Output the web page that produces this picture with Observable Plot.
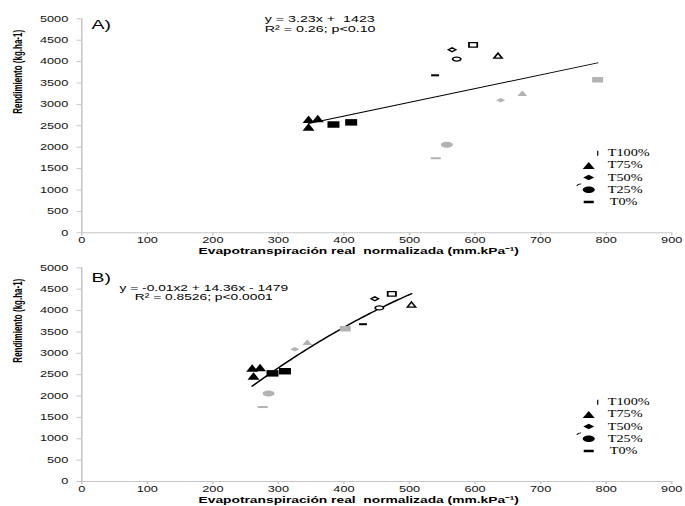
<!DOCTYPE html>
<html>
<head>
<meta charset="utf-8">
<script src="https://cdn.jsdelivr.net/npm/d3@7"></script>
<script src="https://cdn.jsdelivr.net/npm/@observablehq/plot@0.6"></script>
<style>
  html, body { margin: 0; padding: 0; background: #fff; }
  #chart { position: relative; width: 685px; height: 506px; overflow: hidden; background: #fff; }
  #chart svg { position: absolute; left: 0; transform-origin: 0 0; }
  #chart svg text { white-space: pre; }
</style>
</head>
<body>
<div id="chart"></div>
<script>
// ---------------- DATA ----------------
const treatments = ["T100%", "T75%", "T50%", "T25%", "T0%"];
// yields (kg/ha) for the three groups of markers
const yieldDark = [2580, 2670, 2655, 2470, 2530];
const yieldOpen = [4390, 4140, 4275, 4060, 3680];
const yieldGray = [3575, 3260, 3095, 2058, 1742];
// panel A: evapotranspiración real normalizada
const etA_dark = [411, 360, 346, 346, 384];
const etA_open = [597, 635, 565, 572, 539];
const etA_gray = [787, 672, 639, 557, 540];
// panel B
const etB_dark = [310, 272, 260, 262, 291];
const etB_open = [473, 503, 447, 454, 429];
const etB_gray = [402, 344, 325, 285, 276];

const xTicks = [0, 100, 200, 300, 400, 500, 600, 700, 800, 900];
const yTicks = [0, 500, 1000, 1500, 2000, 2500, 3000, 3500, 4000, 4500, 5000];
const panelA = "A)";
const panelB = "B)";
const eqA = ["y = 3.23x +  1423", "R² = 0.26; p<0.10"];
const eqB = ["y = -0.01x2 + 14.36x - 1479", "R² = 0.8526; p<0.0001"];
const xLabel = "Evapotranspiración real  normalizada (mm.kPa⁻¹)";
const yLabel = "Rendimiento (kg.ha-1)";

// ---------------- STYLE ----------------
const S = 1.5;              // horizontal stretch of the original figure
const W0 = 685 / S;
const GRAY = "#b3b3b3";
const AXIS = "#c6c6c6";

function sym(kind, w, h) {
  return {
    draw(ctx) {
      const a = w / 2, b = h / 2, k = 0.5523;
      if (kind === "tri") {
        ctx.moveTo(0, -b); ctx.lineTo(a, b); ctx.lineTo(-a, b); ctx.closePath();
      } else if (kind === "diamond") {
        ctx.moveTo(0, -b); ctx.lineTo(a, 0); ctx.lineTo(0, b); ctx.lineTo(-a, 0); ctx.closePath();
      } else if (kind === "ellipse") {
        ctx.moveTo(a, 0);
        ctx.bezierCurveTo(a, b * k, a * k, b, 0, b);
        ctx.bezierCurveTo(-a * k, b, -a, b * k, -a, 0);
        ctx.bezierCurveTo(-a, -b * k, -a * k, -b, 0, -b);
        ctx.bezierCurveTo(a * k, -b, a, -b * k, a, 0);
        ctx.closePath();
      } else if (kind === "hook") {
        ctx.moveTo(-w / 2, h / 2);
        ctx.quadraticCurveTo(-w / 4, -h / 2, w / 2, -h / 2);
      } else {
        ctx.moveTo(-a, -b); ctx.lineTo(a, -b); ctx.lineTo(a, b); ctx.lineTo(-a, b); ctx.closePath();
      }
    }
  };
}

const darkSyms = [sym("rect", 8, 6.5), sym("tri", 8, 7.5), sym("tri", 8, 7.5), sym("tri", 8, 7.5), sym("rect", 8, 6.5)];
const openSyms = [sym("rect", 5.5, 4.5), sym("tri", 5.5, 5), sym("diamond", 5, 4), sym("ellipse", 5.5, 4), sym("rect", 5.3, 2)];
const openFilled = [false, false, false, false, true];
const graySyms = [sym("rect", 7.3, 5.5), sym("tri", 6.7, 5.5), sym("diamond", 6, 4.5), sym("ellipse", 8, 6), sym("rect", 6.7, 2)];
const legendSyms = [sym("rect", 0.8, 5), sym("tri", 8, 7), sym("diamond", 7.3, 5.5), sym("ellipse", 8, 6.5), sym("rect", 6.7, 2.5)];
const legendDx = [344, 338, 338, 338, 338];
const LEG_Y0 = 134.4, LEG_STEP = 12.2;

function quadFit(xs, ys) {
  const n = xs.length, mx = d3.mean(xs);
  let s1 = 0, s2 = 0, s3 = 0, s4 = 0, t0 = 0, t1 = 0, t2 = 0;
  xs.forEach((x, i) => {
    const u = x - mx, y = ys[i];
    s1 += u; s2 += u * u; s3 += u * u * u; s4 += u * u * u * u;
    t0 += y; t1 += u * y; t2 += u * u * y;
  });
  const M = [[n, s1, s2, t0], [s1, s2, s3, t1], [s2, s3, s4, t2]];
  for (let i = 0; i < 3; i++) {
    for (let j = i + 1; j < 3; j++) {
      const f = M[j][i] / M[i][i];
      for (let k = i; k < 4; k++) M[j][k] -= f * M[i][k];
    }
  }
  const c = [0, 0, 0];
  for (let i = 2; i >= 0; i--) {
    let s = M[i][3];
    for (let k = i + 1; k < 3; k++) s -= M[i][k] * c[k];
    c[i] = s / M[i][i];
  }
  return x => c[0] + c[1] * (x - mx) + c[2] * (x - mx) * (x - mx);
}

function makePanel(etDark, etOpen, etGray, label, labelDy, eq, eqOpts, fit, svgTop, mTop, mBottom) {
  const rows = [];
  treatments.forEach((t, i) => {
    rows.push({t, et: etDark[i], y: yieldDark[i], sym: darkSyms[i], fill: "#000", stroke: "none", w: 0});
    rows.push({t, et: etOpen[i], y: yieldOpen[i], sym: openSyms[i], fill: openFilled[i] ? "#000" : "#fff", stroke: openFilled[i] ? "none" : "#000", w: 1.2});
    rows.push({t, et: etGray[i], y: yieldGray[i], sym: graySyms[i], fill: GRAY, stroke: "none", w: 0});
  });
  const marks = [
    Plot.ruleY([0], {stroke: AXIS, strokeWidth: 1}),
    Plot.ruleX([0], {stroke: AXIS, strokeWidth: 1}),
    Plot.axisX({ticks: xTicks, tickSize: 3, tickPadding: 1, tickFormat: d => String(d), stroke: AXIS, fill: "#111", label: null}),
    Plot.axisY({ticks: yTicks, tickSize: 3, tickPadding: 6, tickFormat: d => String(d), stroke: AXIS, fill: "#111", label: null})
  ];
  if (fit === "linear") {
    marks.push(Plot.linearRegressionY(rows, {x: "et", y: "y", stroke: "#000", strokeWidth: 1, ci: 0}));
  } else {
    const xs = rows.map(d => d.et), ys = rows.map(d => d.y);
    const f = quadFit(xs, ys);
    const [lo, hi] = d3.extent(xs);
    const curve = d3.range(0, 61).map(i => {
      const x = lo + (hi - lo) * i / 60;
      return {x, y: f(x)};
    });
    marks.push(Plot.line(curve, {x: "x", y: "y", stroke: "#000", strokeWidth: 1.3, curve: "linear"}));
  }
  rows.forEach(r => {
    marks.push(Plot.dot([r], {x: "et", y: "y", symbol: r.sym, fill: r.fill, stroke: r.stroke, strokeWidth: r.w, r: 4}));
  });
  // panel letter
  marks.push(Plot.text([label], {frameAnchor: "top-left", text: d => d, dx: 6.5, dy: labelDy, textAnchor: "start", lineAnchor: "middle", fontSize: 13, fill: "#000"}));
  // equation
  marks.push(Plot.text([eq.join("\n")], {frameAnchor: "top-left", text: d => d, fill: "#000", lineAnchor: "middle", ...eqOpts}));
  // axis titles
  marks.push(Plot.text([xLabel], {frameAnchor: "bottom", text: d => d, dx: -12, dy: 18.5, lineAnchor: "middle", fontWeight: "bold", fontSize: 9.2, fill: "#000"}));
  marks.push(Plot.text([yLabel], {frameAnchor: "left", text: d => d, rotate: -90, dx: -42.7, dy: -12, lineAnchor: "middle", fontWeight: "bold", fontSize: 8, fill: "#000"}));
  // legend
  treatments.forEach((t, i) => {
    marks.push(Plot.dot([t], {frameAnchor: "top-left", dx: legendDx[i], dy: LEG_Y0 + LEG_STEP * i, symbol: legendSyms[i], fill: "#000", stroke: "none", r: 4}));
    marks.push(Plot.text([t], {frameAnchor: "top-left", text: d => d, dx: 350.7 + (i === 4 ? 1.3 : 0), dy: LEG_Y0 + LEG_STEP * i, textAnchor: "start", lineAnchor: "middle", fontFamily: "Liberation Serif, Times New Roman, serif", fontSize: 9.5, fill: "#000"}));
  });
  marks.push(Plot.dot([0], {frameAnchor: "top-left", dx: 331.5, dy: LEG_Y0 + LEG_STEP * 3 - 5, symbol: sym("hook", 3, 2), fill: "none", stroke: "#000", strokeWidth: 0.8, r: 4}));
  const svg = Plot.plot({
    width: W0,
    height: 256,
    marginLeft: 81 / S,
    marginRight: 14 / S,
    marginTop: mTop,
    marginBottom: mBottom,
    x: {domain: [0, 900]},
    y: {domain: [0, 5000]},
    style: {fontFamily: "Liberation Sans, Arial, sans-serif", fontSize: "8.5px", color: "#000", background: "transparent", overflow: "visible"},
    marks
  });
  svg.style.top = svgTop + "px";
  svg.style.transform = `scaleX(${S})`;
  return svg;
}

const chart = document.getElementById("chart");
chart.append(makePanel(etA_dark, etA_open, etA_gray, panelA, 5.7, eqA,
  {dx: (264 - 81) / S, dy: 5, textAnchor: "start", lineHeight: 1.08, fontSize: 9.5}, "linear", 0, 18.3, 256 - 232.3));
chart.append(makePanel(etB_dark, etB_open, etB_gray, panelB, 10.2, eqB,
  {dx: (203 - 81) / S, dy: 25, textAnchor: "middle", lineHeight: 0.95, fontSize: 9.2}, "quad", 250, 17.3, 25));
</script>
</body>
</html>
